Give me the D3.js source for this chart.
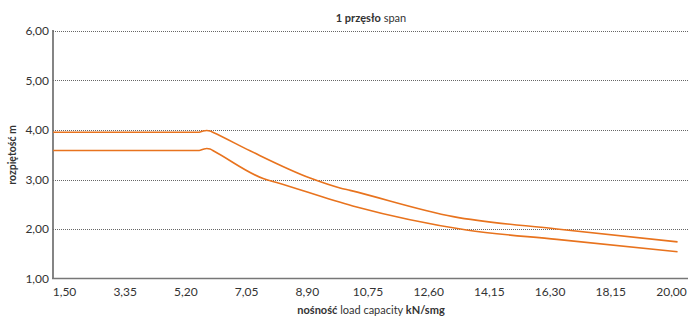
<!DOCTYPE html>
<html lang="pl">
<head>
<meta charset="UTF-8">
<title>1 przęsło span</title>
<script src="https://cdnjs.cloudflare.com/ajax/libs/d3/7.8.2/d3.min.js"></script>
<style>
    body { margin: 0; background: #fff; }
    svg text { font-family: Lato, "Open Sans", sans-serif; fill: #333; }
</style>
</head>
<body>
<div id="chart"></div>
<script>
    // tick labels on the load axis (evenly spaced in the original)
    let xTicks = [1.50, 3.35, 5.20, 7.05, 8.90, 10.75, 12.60, 14.15, 16.30, 18.15, 20.00];
    let yTicks = [1, 2, 3, 4, 5, 6];

    // load capacity kN/m2 -> span m
    let upperLoad = [1.17, 5.62, 5.74, 5.85, 5.95, 6.05, 7.17, 9.00, 9.91, 10.22, 13.24, 16.52, 20.2];
    let upperSpan = [3.955, 3.955, 3.98, 3.99, 3.98, 3.95, 3.58, 3.03, 2.83, 2.78, 2.25, 2.00, 1.74];

    let lowerLoad = [1.17, 5.62, 5.74, 5.85, 5.95, 6.05, 7.57, 7.98, 10.3, 13.58, 16.52, 20.2];
    let lowerSpan = [3.586, 3.586, 3.61, 3.625, 3.615, 3.58, 3.02, 2.94, 2.465, 1.98, 1.79, 1.54];

    let width = 689;
    let height = 316;
    let axisX = 53;
    let axisRight = 688;
    let firstTick = 64;
    let tickStep = 60.7;

    let svg = d3.select('#chart').append('svg')
        .attr('width', width)
        .attr('height', height);

    // piecewise scale so the ticks sit at equal distance
    let xScale = d3.scaleLinear()
        .domain(xTicks)
        .range(xTicks.map((d, i) => firstTick + i * tickStep));

    let yScale = d3.scaleLinear()
        .domain([1, 6])
        .range([278.5, 31]);

    const fmt = (d) => d3.format('.2f')(d).replace('.', ',');

    // grid
    svg.append('g')
        .selectAll('line')
        .data(yTicks.filter(d => d > 1))
        .enter()
        .append('line')
        .attr('x1', axisX)
        .attr('x2', axisRight)
        .attr('y1', d => Math.round(yScale(d)) + 0.5)
        .attr('y2', d => Math.round(yScale(d)) + 0.5)
        .style('stroke', '#666')
        .style('stroke-width', 1)
        .style('stroke-dasharray', '1,1');

    // y axis
    let yAxis = d3.axisLeft(yScale)
        .tickValues(yTicks)
        .tickSize(0)
        .tickPadding(4)
        .tickFormat(fmt);
    let gy = svg.append('g')
        .attr('transform', `translate(${axisX},0)`)
        .call(yAxis);
    gy.select('.domain').remove();
    gy.selectAll('text')
        .style('font-size', '12px')
        .style('font-family', 'Lato, sans-serif')
        .attr('fill', '#333');

    // x axis
    let xAxis = d3.axisBottom(xScale)
        .tickValues(xTicks)
        .tickSize(0)
        .tickPadding(9)
        .tickFormat(fmt);
    let gx = svg.append('g')
        .attr('transform', `translate(0,${yScale(1)})`)
        .call(xAxis);
    gx.select('.domain').remove();
    gx.selectAll('text')
        .style('font-size', '12px')
        .style('font-family', 'Lato, sans-serif')
        .attr('fill', '#333');

    // axis lines
    svg.append('line')
        .attr('x1', axisX).attr('x2', axisX)
        .attr('y1', yScale(6) - 1).attr('y2', yScale(1))
        .style('stroke', '#666').style('stroke-width', 1.6);
    svg.append('line')
        .attr('x1', axisX - 1).attr('x2', axisRight)
        .attr('y1', yScale(1)).attr('y2', yScale(1))
        .style('stroke', '#777').style('stroke-width', 1.6);

    // lines
    let line = d3.line()
        .x(d => xScale(d[0]))
        .y(d => yScale(d[1]))
        .curve(d3.curveMonotoneX);

    [[upperLoad, upperSpan], [lowerLoad, lowerSpan]].forEach(s => {
        svg.append('path')
            .datum(s[0].map((d, i) => [d, s[1][i]]))
            .attr('d', line)
            .style('fill', 'none')
            .style('stroke', '#e8731e')
            .style('stroke-width', 1.6);
    });

    // title
    let title = svg.append('text')
        .attr('x', 371)
        .attr('y', 22)
        .attr('text-anchor', 'middle')
        .style('font-size', '11px');
    title.append('tspan').style('font-weight', 'bold').text('1 przęsło');
    title.append('tspan').text(' span');

    // axis titles
    svg.append('text')
        .attr('transform', 'translate(16,155) rotate(-90)')
        .attr('text-anchor', 'middle')
        .style('font-size', '10.5px')
        .style('font-weight', 'bold')
        .text('rozpiętość m');

    let xl = svg.append('text')
        .attr('x', 371)
        .attr('y', 314)
        .attr('text-anchor', 'middle')
        .style('font-size', '11px');
    xl.append('tspan').style('font-weight', 'bold').text('nośność');
    xl.append('tspan').text(' load capacity ');
    xl.append('tspan').style('font-weight', 'bold').text('kN/smg');
</script>
</body>
</html>
